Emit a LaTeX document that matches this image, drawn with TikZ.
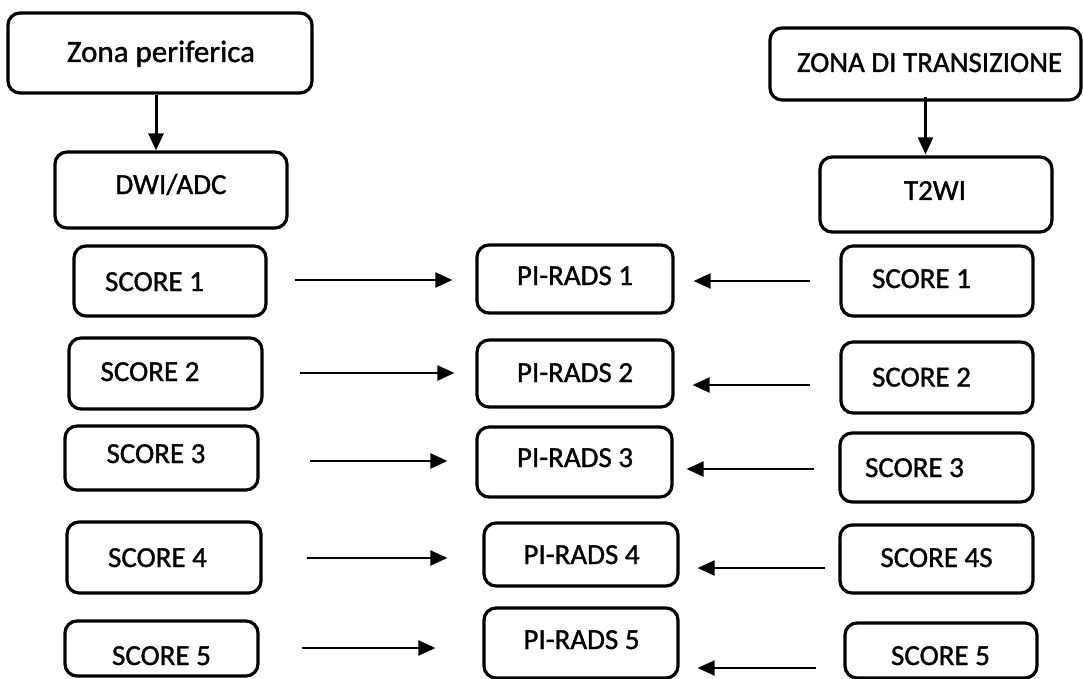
\documentclass[tikz,border=0pt]{standalone}
\usepackage{fontspec}
\setmainfont{Carlito}[RawFeature={embolden=1.2}]
\usetikzlibrary{arrows.meta}

\tikzset{
  box/.style={draw=black, line width=3.2pt, rounded corners=12pt, rectangle, inner sep=0pt},
  lbl/.style={anchor=base, inner sep=0pt, font=\fontsize{29}{34}\selectfont},
  arr/.style={line width=2.2pt, -{Triangle[length=17pt,width=15pt]}},
}

% name, left, top, right, bottom, text x, text baseline, text
\newcommand\flowbox[8]{%
  \node[box, minimum width={#4-#2}, minimum height={#5-#3}] (#1) at ({(#2+#4)/2},{(#3+#5)/2}) {};
  \node[lbl] (#1-t) at (#6,#7) {#8};
}

\begin{document}
\begin{tikzpicture}[x=1pt, y=-1pt]
\useasboundingbox (0,0) rectangle (1083,679);

% zone headers and imaging sequences
\flowbox{zp}{8}{13}{312}{93}{161}{62}{\fontsize{31}{36}\selectfont Zona periferica}
\flowbox{dwi}{55}{152}{287}{228}{171}{194}{DWI/ADC}
\flowbox{zdt}{770}{28}{1081}{100}{929.5}{72}{ZONA DI TRANSIZIONE}
\flowbox{t2}{820}{157}{1052}{232}{935}{200}{T2WI}

% peripheral zone scores
\flowbox{L1}{74}{246}{266}{316}{154.5}{291}{SCORE 1}
\flowbox{L2}{69}{338}{262}{409}{150}{381}{SCORE 2}
\flowbox{L3}{65}{426}{258}{490}{156}{463}{SCORE 3}
\flowbox{L4}{67}{522}{261}{593}{157.5}{567}{SCORE 4}
\flowbox{L5}{65}{621}{258}{676}{161.5}{665}{SCORE 5}

% overall categories
\flowbox{P1}{477}{245}{673}{313}{575}{285}{PI-RADS 1}
\flowbox{P2}{477}{340}{673}{407}{575}{382}{PI-RADS 2}
\flowbox{P3}{477}{427}{672}{497}{575}{467}{PI-RADS 3}
\flowbox{P4}{484}{523}{678}{586}{581.5}{564}{PI-RADS 4}
\flowbox{P5}{484}{608}{678}{678}{581.5}{649}{PI-RADS 5}

% transition zone scores
\flowbox{R1}{841}{246}{1033}{316}{921.5}{288}{SCORE 1}
\flowbox{R2}{841}{342}{1033}{413}{921.5}{386.5}{SCORE 2}
\flowbox{R3}{840}{433}{1033}{502}{914.5}{477}{SCORE 3}
\flowbox{R4}{840}{525}{1033}{593}{936.5}{567}{SCORE 4S}
\flowbox{R5}{845}{623}{1037}{678}{940.5}{665}{SCORE 5}

% header arrows
\draw[arr, line width=3pt]
  ([xshift=-4]zp.south) -- ([xshift=-4]zp.south |- dwi.north);
\draw[arr]
  ([yshift=5]zdt.south) -- ([yshift=1]zdt.south |- t2.north);

% score -> category arrows, peripheral side
\draw[arr] ([shift={(27,-1)}]L1.east)   -- ([shift={(-23,-1)}]L1.east -| P1.west);
\draw[arr] ([shift={(36,-0.5)}]L2.east) -- ([shift={(-21,-0.5)}]L2.east -| P2.west);
\draw[arr] ([shift={(50,3)}]L3.east)    -- ([shift={(-28,3)}]L3.east -| P3.west);
\draw[arr] ([shift={(44,0.5)}]L4.east)  -- ([shift={(-35,0.5)}]L4.east -| P4.west);
\draw[arr] ([shift={(42,-0.5)}]L5.east) -- ([shift={(-47,-0.5)}]L5.east -| P5.west);

% score -> category arrows, transition side
\draw[arr] ([shift={(-29,0)}]R1.west)    -- ([shift={(19,0)}]R1.west -| P1.east);
\draw[arr] ([shift={(-29,7.5)}]R2.west)  -- ([shift={(18,7.5)}]R2.west -| P2.east);
\draw[arr] ([shift={(-24,1.5)}]R3.west)  -- ([shift={(13,1.5)}]R3.west -| P3.east);
\draw[arr] ([shift={(-13,9)}]R4.west)    -- ([shift={(18,9)}]R4.west -| P4.east);
\draw[arr] ([shift={(-27,17.5)}]R5.west) -- ([shift={(18,17.5)}]R5.west -| P5.east);
\end{tikzpicture}
\end{document}
